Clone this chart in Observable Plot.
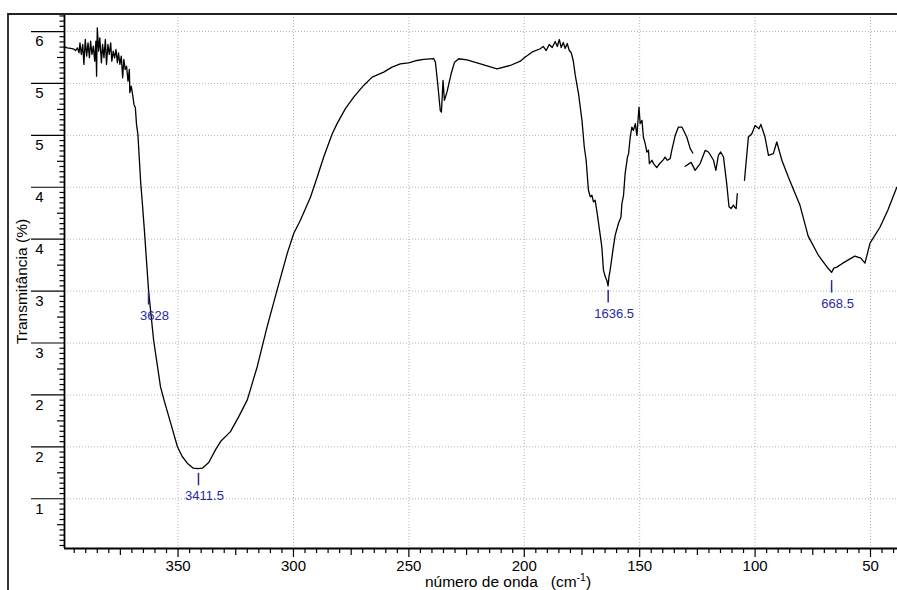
<!DOCTYPE html>
<html><head><meta charset="utf-8">
<script src="https://cdn.jsdelivr.net/npm/d3@7"></script>
<script src="https://cdn.jsdelivr.net/npm/@observablehq/plot@0.6"></script>
<style>
body{margin:0;background:#fff;}
#wrap{position:relative;width:897px;height:590px;overflow:hidden;background:#fff;}
#wrap svg{position:absolute;left:0;top:0;}
#frame{position:absolute;left:7px;top:13px;right:-10px;bottom:-10px;border-left:2px solid #333;border-top:2px solid #222;pointer-events:none;}
</style></head><body>
<div id="wrap"></div>
<script>
// spectrum segments: wavenumber / 10 (axis units) and transmittance
const wave1 = [399.1,398.0,396.5,395.1,394.4,393.6,392.9,392.5,391.9,391.3,390.8,390.2,389.6,389.0,388.4,387.9,387.3,386.7,386.1,385.6,385.3,385.0,384.4,383.9,383.2,382.7,382.1,381.5,381.0,380.4,379.8,379.2,378.7,378.1,377.5,376.9,376.3,375.8,375.2,374.6,374.0,373.5,372.9,372.3,371.7,371.1,370.9,370.3,369.7,369.1,368.5,368.0,367.4,367.0,366.2,365.4,364.5,362.8,360.6,357.6,356.1,353.2,350.3,348.2,346.0,343.4,341.4,339.5,336.7,333.8,331.6,327.3,323.7,320.0,315.7,311.4,307.1,302.7,299.9,297.0,292.6,289.7,286.9,283.2,281.1,277.5,273.9,269.6,265.9,260.9,257.3,253.7,250.1,246.5,243.6,239.3,238.5,237.5,236.4,235.9,235.2,234.6,233.5,231.7,230.2,228.4,224.8,219.0,211.8,206.1,201.7,200.0,196.7,193.1,191.8,190.5,189.2,187.9,186.6,185.7,184.8,184.0,183.1,182.3,181.4,180.5,179.7,178.8,177.9,176.5,175.0,174.0,173.2,172.2,171.4,170.7,170.0,169.3,168.5,167.4,166.4,165.7,164.9,164.2,163.7,163.3,162.8,161.6,160.6,159.2,158.1,157.7,157.0,156.3,155.3,154.8,154.1,153.4,152.7,151.9,151.2,150.3,149.8,149.0,148.4,147.6,146.9,146.2,145.8,144.7,144.0,142.6,141.9,141.1,139.7,139.0,138.0,136.8,136.1,134.6,133.2,131.7,129.6,128.1,127.0];
const trans1 = [5.853,5.843,5.837,5.830,5.817,5.843,5.795,5.891,5.779,5.875,5.683,5.923,5.763,5.891,5.747,5.907,5.779,5.859,5.714,5.907,5.570,6.036,5.811,5.939,5.699,5.875,5.747,5.923,5.683,5.875,5.779,5.891,5.714,5.811,5.747,5.827,5.699,5.795,5.683,5.763,5.555,5.731,5.635,5.666,5.522,5.635,5.411,5.474,5.394,5.298,5.266,5.106,5.010,4.856,4.548,4.327,4.058,3.510,3.029,2.577,2.452,2.228,2.003,1.907,1.843,1.795,1.790,1.795,1.849,1.971,2.051,2.147,2.291,2.452,2.772,3.157,3.510,3.863,4.055,4.183,4.407,4.599,4.791,5.016,5.113,5.257,5.368,5.481,5.561,5.609,5.657,5.689,5.699,5.721,5.731,5.740,5.705,5.497,5.240,5.224,5.529,5.337,5.416,5.593,5.705,5.738,5.728,5.689,5.641,5.673,5.714,5.747,5.801,5.834,5.856,5.817,5.875,5.846,5.904,5.856,5.923,5.846,5.894,5.837,5.885,5.817,5.798,5.721,5.577,5.401,5.144,4.888,4.760,4.471,4.407,4.423,4.359,4.375,4.263,4.087,3.926,3.702,3.638,3.600,3.550,3.640,3.702,3.894,4.039,4.151,4.214,4.343,4.423,4.632,4.791,4.824,4.984,5.080,5.048,5.113,5.000,5.272,5.113,5.144,4.984,4.920,4.839,4.856,4.728,4.760,4.728,4.689,4.712,4.734,4.766,4.791,4.760,4.776,4.856,5.000,5.080,5.080,4.984,4.872,4.830];
const wave2 = [130.3,127.7,126.0,123.8,121.6,120.2,118.0,117.0,115.9,114.9,113.7,112.3,111.3,110.4,109.4,108.7,108.2,107.7];
const trans2 = [4.702,4.740,4.663,4.728,4.856,4.840,4.760,4.663,4.808,4.840,4.791,4.536,4.312,4.295,4.327,4.305,4.295,4.439];
const wave3 = [104.6,102.9,101.4,100.0,98.3,97.5,95.7,94.2,92.1,90.6,88.4,85.6,80.6,77.0,72.7,68.4,66.85,65.9,64.6,62.0,56.8,54.2,52.4,50.2,45.9,42.5,38.6];
const trans3 = [4.567,4.984,5.016,5.096,5.064,5.106,4.984,4.808,4.824,4.936,4.760,4.599,4.33,4.03,3.85,3.72,3.68,3.721,3.731,3.769,3.837,3.817,3.769,3.962,4.115,4.279,4.500];

// peak annotations
const peakWave = [362.8, 341.15, 163.65, 66.85];
const peakTop = [3.486, 1.745, 3.505, 3.601];
const peakLabels = ["3628", "3411.5", "1636.5", "668.5"];

// axes
const xTickValues = [350, 300, 250, 200, 150, 100, 50];
const xTickLabels = ["350", "300", "250", "200", "150", "100", "50"];
const yTickValues = [6, 5.5, 5, 4.5, 4, 3.5, 3, 2.5, 2, 1.5];
const yTickLabels = ["6", "5", "5", "4", "4", "3", "3", "2", "2", "1"];
const xDomain = [399.2, 38.3];
const yDomain = [1.021, 6.164];
const yTitle = "Transmitância (%)";
const xTitleMain = "número de onda\u00a0\u00a0\u00a0(cm";
const xTitleSup = "-1";

const data = [];
[[wave1, trans1], [wave2, trans2], [wave3, trans3]].forEach(([w, t], s) =>
  w.forEach((x, j) => data.push({seg: s, x, y: t[j]})));
const peaks = peakWave.map((x, i) => ({x, y: peakTop[i], label: peakLabels[i]}));

const xAll = d3.range(40, 400, 5);
const xMinor = xAll.filter(v => v % 25 !== 0);
const xMid = xAll.filter(v => v % 25 === 0 && v % 50 !== 0);
const yAll = d3.range(21, 124).map(i => ({i, v: i / 20}));
const yMinor = yAll.filter(d => d.i % 5 !== 0).map(d => d.v);
const yMid = yAll.filter(d => d.i % 5 === 0 && d.i % 10 !== 0).map(d => d.v);

const W = 897, H = 590, mL = 64, mR = 0, mT = 14, mB = 42;
const pw = W - mL - mR, ph = H - mT - mB;
const font = "'Liberation Sans', Arial, sans-serif";
const navy = "#2a2a9e";
const grid = {stroke: "#b4b4b4", strokeOpacity: 1, strokeWidth: 1, strokeDasharray: "1,2"};

const chart = Plot.plot({
  width: W, height: H,
  marginLeft: mL, marginRight: mR, marginTop: mT, marginBottom: mB,
  x: {domain: xDomain, axis: null},
  y: {domain: yDomain, axis: null},
  style: {fontFamily: font, fontSize: "15px", color: "#000", background: "#fff"},
  marks: [
    Plot.ruleX(xTickValues, {x: d => d, ...grid}),
    Plot.ruleY(yTickValues, {y: d => d, ...grid}),
    // x ticks
    Plot.ruleX(xMinor, {x: d => d, insetTop: ph, insetBottom: -5, stroke: "#000", strokeWidth: 1.2}),
    Plot.ruleX(xMid, {x: d => d, insetTop: ph, insetBottom: -7, stroke: "#000", strokeWidth: 1.2}),
    Plot.ruleX(xTickValues, {x: d => d, insetTop: ph, insetBottom: -9, stroke: "#000", strokeWidth: 1.2}),
    // y ticks
    Plot.ruleY(yMinor, {y: d => d, insetLeft: -4.5, insetRight: pw, stroke: "#000", strokeWidth: 1.2}),
    Plot.ruleY(yMid, {y: d => d, insetLeft: -7, insetRight: pw, stroke: "#000", strokeWidth: 1.2}),
    Plot.ruleY(yTickValues, {y: d => d, insetLeft: -33, insetRight: pw, stroke: "#000", strokeWidth: 1.2}),
    // axis lines
    Plot.ruleY([yDomain[0]], {stroke: "#000", strokeWidth: 1.8}),
    Plot.ruleX([xDomain[0]], {stroke: "#000", strokeWidth: 1.8}),
    // tick labels
    Plot.text(xTickValues, {x: d => d, text: (d, i) => xTickLabels[i], frameAnchor: "bottom", lineAnchor: "middle", dy: 18, fontSize: 15}),
    Plot.text(yTickValues, {y: d => d, text: (d, i) => yTickLabels[i], frameAnchor: "left", lineAnchor: "middle", dx: -25, dy: 10, fontSize: 15, textAnchor: "middle"}),
    Plot.text([yTitle], {text: d => d, frameAnchor: "left", textAnchor: "middle", lineAnchor: "middle", dx: -42, rotate: -90, fontSize: 15.5}),
    // spectrum
    Plot.line(data, {x: "x", y: "y", z: "seg", stroke: "#000", strokeWidth: 1.3}),
    // peak annotations
    Plot.ruleX(peaks, {x: "x", y1: "y", y2: d => d.y - 0.12, stroke: navy, strokeWidth: 1.5}),
    Plot.text(peaks, {x: "x", y: "y", text: "label", dy: 23, dx: 6, fill: navy, fontSize: 13})
  ]
});

const svg = d3.select(chart);
const t = svg.append("text")
  .attr("x", 508).attr("y", 587)
  .attr("text-anchor", "middle")
  .attr("font-family", font)
  .attr("font-size", 15.5)
  .attr("fill", "#000");
t.append("tspan").text(xTitleMain);
t.append("tspan").attr("dy", -6).attr("font-size", 10.5).text(xTitleSup);
t.append("tspan").attr("dy", 6).text(")");

const wrap = document.getElementById("wrap");
wrap.appendChild(chart);
const fr = document.createElement("div");
fr.id = "frame";
wrap.appendChild(fr);
</script>
</body></html>
